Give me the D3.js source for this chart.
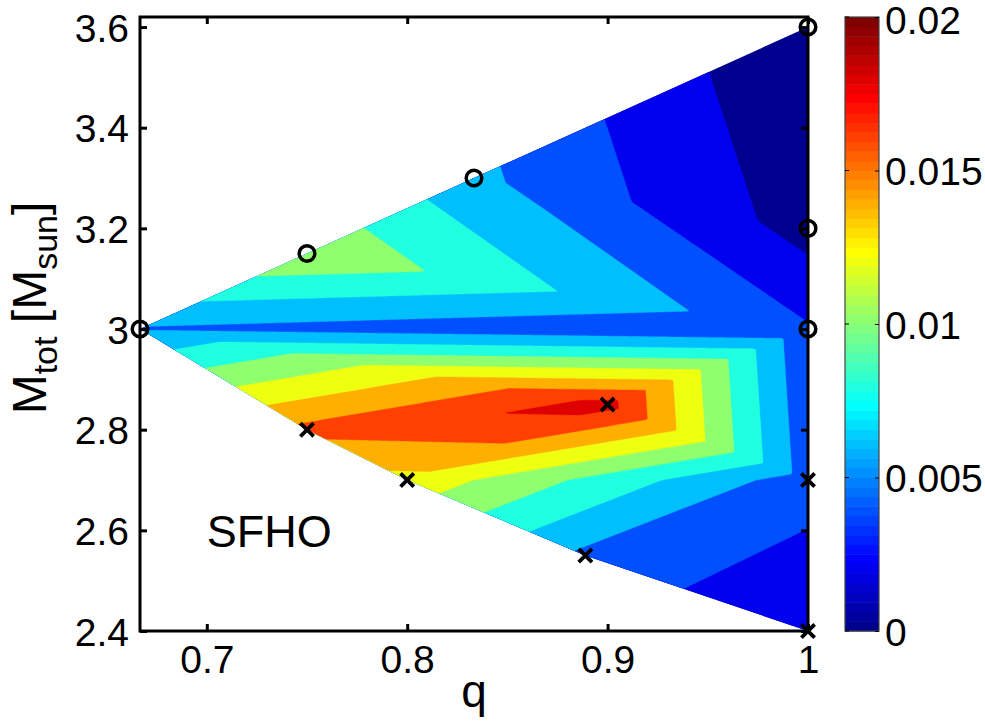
<!DOCTYPE html>
<html>
<head>
<meta charset="utf-8">
<script src="https://cdn.jsdelivr.net/npm/d3@7"></script>
<style>
  html, body { margin: 0; padding: 0; background: #fff; }
  svg text { font-family: "Liberation Sans", Arial, Helvetica, sans-serif; fill: #000; }
</style>
</head>
<body>
<svg id="chart" width="985" height="721"></svg>
<script>
// Merger runs: mass ratio q, total mass and ejecta mass (M_sun)
const runQ    = [2/3, 0.75, 5/6, 1.0, 1.0, 1.0, 0.75, 0.8, 1.2/1.35, 0.9, 1.0, 1.0];
const runMtot = [3.0, 3.15, 3.3, 3.6, 3.2, 3.0, 2.8, 2.7, 2.55, 2.85, 2.7, 2.4];
const runMej  = [0.0058, 0.0118, 0.0065, 0.0001, 0.0012, 0.0042,
                 0.0166, 0.0134, 0.0055, 0.01875, 0.0049, 0.0021];
// marker style per run: "o" circle, "x" cross
const runMarker = ["o", "o", "o", "o", "o", "o", "x", "x", "x", "x", "x", "x"];
// triangulation of the runs (indices into the arrays above)
const mesh = [[0, 1, 5], [1, 2, 5], [2, 4, 5], [2, 3, 4], [0, 5, 9], [0, 6, 9],
              [6, 7, 9], [7, 9, 10], [7, 8, 10], [8, 10, 11], [5, 9, 10]];
// filled contour levels and tick labels
const levels    = [0, 0.002, 0.004, 0.006, 0.008, 0.010, 0.012, 0.014, 0.016, 0.018];
const qTicks    = [0.7, 0.8, 0.9, 1];
const mTicks    = [2.4, 2.6, 2.8, 3.0, 3.2, 3.4, 3.6];
const cbarTicks = [0, 0.005, 0.01, 0.015, 0.02];
const cRange    = [0, 0.02];

const svg = d3.select("#chart");
const L = 140, R = 808, T = 17, B = 631;
const x = d3.scaleLinear().domain([2/3, 1]).range([L, R]);
const y = d3.scaleLinear().domain([2.4, 3.62]).range([B, T]);

// MATLAB-style jet colormap with 64 entries
function jetEntry(k) { // k = 1..64
  const u = i => (i < 1 || i > 47) ? 0 : (i <= 16 ? i / 16 : (i <= 31 ? 1 : (48 - i) / 16));
  const r = k >= 25 ? u(k - 24) : 0;
  const g = (k >= 9 && k <= 55) ? u(k - 8) : 0;
  const b = k <= 39 ? u(k + 8) : 0;
  return d3.rgb(Math.round(r * 255), Math.round(g * 255), Math.round(b * 255)).formatHex();
}
const jet64 = d3.range(1, 65).map(jetEntry);
const color = d3.scaleQuantize().domain(cRange).range(jet64);

// ---- field sampled on a pixel grid from the triangulated runs ----
const pts = runQ.map((q, i) => [x(q), y(runMtot[i])]);
const tris = mesh.map(([i, j, k]) => {
  const [x1, y1] = pts[i], [x2, y2] = pts[j], [x3, y3] = pts[k];
  const det = (y2 - y3) * (x1 - x3) + (x3 - x2) * (y1 - y3);
  return { i, j, k, x1, y1, x2, y2, x3, y3, det };
});
function fieldAt(px, py) {
  let best = null, bestMin = -Infinity;
  for (const t of tris) {
    const l1 = ((t.y2 - t.y3) * (px - t.x3) + (t.x3 - t.x2) * (py - t.y3)) / t.det;
    const l2 = ((t.y3 - t.y1) * (px - t.x3) + (t.x1 - t.x3) * (py - t.y3)) / t.det;
    const l3 = 1 - l1 - l2;
    const m = Math.min(l1, l2, l3);
    if (m > bestMin) { bestMin = m; best = [t, l1, l2, l3]; }
  }
  const [t, a, b, c] = best;
  return a * runMej[t.i] + b * runMej[t.j] + c * runMej[t.k];
}
const step = 1.5, gx0 = L - 4, gy0 = T - 4;
const nx = Math.ceil((R - L + 8) / step), ny = Math.ceil((B - T + 8) / step);
const values = new Float64Array(nx * ny);
for (let j = 0; j < ny; j++) {
  for (let i = 0; i < nx; i++) {
    values[j * nx + i] = fieldAt(gx0 + (i + 0.5) * step, gy0 + (j + 0.5) * step);
  }
}
const bands = d3.contours().size([nx, ny]).thresholds(levels)(values);
const gridPath = d3.geoPath(d3.geoIdentity().scale(step).translate([gx0, gy0]));

// clip to the convex hull of the runs
const hull = d3.polygonHull(pts);
svg.append("defs").append("clipPath").attr("id", "hullClip")
  .append("path").attr("d", "M" + hull.map(p => p.join(",")).join("L") + "Z");

svg.append("g").attr("clip-path", "url(#hullClip)")
  .selectAll("path").data(bands).join("path")
  .attr("d", gridPath)
  .attr("fill", d => color(d.value))
  .attr("stroke", d => color(d.value))
  .attr("stroke-width", 0.4);

// ---- axes ----
const fs = 39;
const gx = svg.append("g").attr("transform", `translate(0,${B})`)
  .call(d3.axisBottom(x).tickValues(qTicks).tickFormat(d3.format("~g"))
    .tickSizeInner(-7).tickSizeOuter(0).tickPadding(14));
const gxTop = svg.append("g").attr("transform", `translate(0,${T})`)
  .call(d3.axisTop(x).tickValues(qTicks).tickFormat("").tickSizeInner(-7).tickSizeOuter(0));
const gy = svg.append("g").attr("transform", `translate(${L},0)`)
  .call(d3.axisLeft(y).tickValues(mTicks).tickFormat(d3.format("~g"))
    .tickSizeInner(-7).tickSizeOuter(0).tickPadding(11));
const gyR = svg.append("g").attr("transform", `translate(${R},0)`)
  .call(d3.axisRight(y).tickValues(mTicks).tickFormat("").tickSizeInner(-7).tickSizeOuter(0));
[gx, gxTop, gy, gyR].forEach(g => {
  g.select(".domain").remove();
  g.selectAll(".tick line").attr("stroke", "#000").attr("stroke-width", 3);
  g.selectAll(".tick text").attr("font-size", fs).attr("fill", "#000")
    .style("font-family", '"Liberation Sans", Arial, sans-serif');
});
gx.selectAll(".tick text").attr("dy", "0.71em");
gy.selectAll(".tick text").attr("dy", "0.36em");

svg.append("rect").attr("x", L).attr("y", T).attr("width", R - L).attr("height", B - T)
  .attr("fill", "none").attr("stroke", "#000").attr("stroke-width", 3);

// axis titles
svg.append("text").attr("x", (L + R) / 2).attr("y", 707).attr("text-anchor", "middle")
  .attr("font-size", 46).text("q");
const yl = svg.append("text").attr("transform", `translate(46,308) rotate(-90)`)
  .attr("text-anchor", "middle").attr("font-size", 48);
yl.append("tspan").text("M");
yl.append("tspan").attr("font-size", 34).attr("dy", 11).text("tot");
yl.append("tspan").attr("dy", -11).text(" [M");
yl.append("tspan").attr("font-size", 34).attr("dy", 11).text("sun");
yl.append("tspan").attr("dy", -11).text("]");

// EOS label
svg.append("text").attr("x", x(0.7)).attr("y", y(2.6)).attr("dy", "0.36em")
  .attr("font-size", 45).text("SFHO");

// ---- markers ----
const mk = svg.append("g").attr("stroke", "#000").attr("fill", "none").attr("stroke-width", 3.5);
runQ.forEach((q, i) => {
  const cx = x(q), cy = y(runMtot[i]);
  if (runMarker[i] === "o") {
    mk.append("circle").attr("cx", cx).attr("cy", cy).attr("r", 7.8);
  } else {
    const s = 5.3;
    mk.append("path").attr("d", `M${cx - s},${cy - s}L${cx + s},${cy + s}M${cx - s},${cy + s}L${cx + s},${cy - s}`)
      .attr("stroke-linecap", "square").attr("stroke-width", 3.8);
  }
});

// ---- colorbar ----
const cbL = 845, cbW = 34;
const cy = d3.scaleLinear().domain(cRange).range([B, T]);
const cb = svg.append("g");
const binW = (cRange[1] - cRange[0]) / jet64.length;
cb.selectAll("rect.bin").data(jet64).join("rect").attr("class", "bin")
  .attr("x", cbL).attr("width", cbW)
  .attr("y", (d, i) => cy(cRange[0] + (i + 1) * binW))
  .attr("height", (d, i) => cy(cRange[0] + i * binW) - cy(cRange[0] + (i + 1) * binW) + 0.5)
  .attr("fill", d => d);
cb.append("rect").attr("x", cbL).attr("y", T).attr("width", cbW).attr("height", B - T)
  .attr("fill", "none").attr("stroke", "#444").attr("stroke-width", 1.2);
const cbAxis = cb.append("g").attr("transform", `translate(${cbL + cbW},0)`)
  .call(d3.axisRight(cy).tickValues(cbarTicks).tickFormat(d3.format("~g"))
    .tickSizeInner(-4).tickSizeOuter(0).tickPadding(6));
cbAxis.select(".domain").remove();
cbAxis.selectAll(".tick line").attr("stroke", "#000").attr("stroke-width", 1);
cbAxis.selectAll(".tick text").attr("font-size", fs).attr("fill", "#000").attr("dy", "0.36em")
  .style("font-family", '"Liberation Sans", Arial, sans-serif');
// keep the top label inside the page
cbAxis.selectAll(".tick text").filter(d => d === cRange[1]).attr("dy", "0.42em");
cb.selectAll("line.lt").data(cbarTicks).join("line").attr("class", "lt")
  .attr("x1", cbL).attr("x2", cbL + 4).attr("y1", d => cy(d)).attr("y2", d => cy(d))
  .attr("stroke", "#000").attr("stroke-width", 1);
</script>
</body>
</html>
